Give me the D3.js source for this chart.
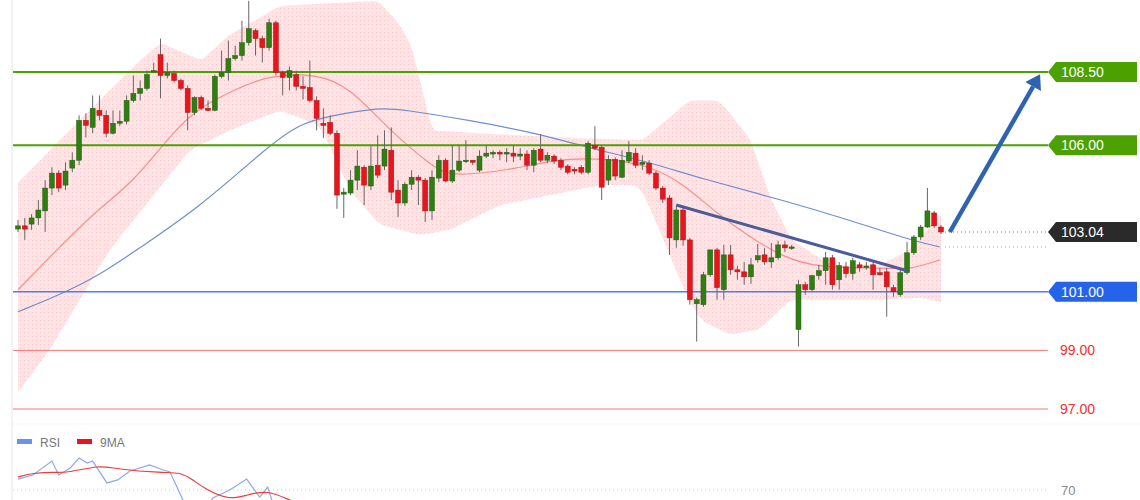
<!DOCTYPE html>
<html><head><meta charset="utf-8">
<script src="https://cdn.jsdelivr.net/npm/d3@7"></script>
<style>body{margin:0;background:#fff}svg{display:block;font-family:"Liberation Sans",Arial,sans-serif}</style>
</head><body><svg id="c" width="1140" height="500"></svg>
<script>
// candles: [open, high, low, close]
const candles = [
[103.14,103.45,103.04,103.25],[103.25,103.52,102.77,103.14],[103.31,103.65,103.11,103.52],[103.52,104.13,103.28,103.79],
[103.76,104.81,103.04,104.54],[104.54,105.25,104.30,105.05],[105.05,105.15,104.40,104.54],[104.64,105.42,104.47,105.12],
[105.22,105.76,105.08,105.49],[105.49,107.02,105.32,106.85],[106.85,107.09,106.27,106.68],[106.61,107.70,106.41,107.26],
[107.19,107.70,106.85,107.02],[107.02,107.19,106.27,106.41],[106.41,107.19,106.37,106.75],[106.75,107.19,106.65,106.82],
[106.82,107.70,106.71,107.53],[107.53,108.38,107.46,107.77],[107.77,108.21,107.53,107.94],[107.94,108.55,107.87,108.41],
[108.52,108.82,108.48,108.55],[109.09,109.64,107.60,108.38],[108.38,108.82,108.28,108.48],[108.45,108.55,108.14,108.21],
[108.21,108.28,107.87,107.94],[107.94,108.04,106.51,107.12],[107.12,107.67,107.02,107.63],[107.63,107.70,107.19,107.26],
[107.26,107.53,107.16,107.19],[107.19,108.41,107.16,108.35],[108.35,109.23,108.28,108.48],[108.48,109.57,108.21,108.96],
[108.96,109.40,108.89,109.06],[109.06,110.25,108.89,109.50],[109.50,110.93,109.40,109.98],[109.91,109.98,109.06,109.64],
[109.64,109.74,108.82,109.33],[109.33,110.32,109.23,110.18],[110.18,110.25,108.38,108.48],[108.48,108.55,107.70,108.31],
[108.31,108.69,107.87,108.55],[108.41,108.55,107.87,108.01],[108.01,108.35,107.56,107.94],[107.97,108.89,107.46,107.53],
[107.53,107.67,106.51,106.92],[106.75,107.26,106.24,106.68],[106.78,107.02,106.34,106.41],[106.41,106.51,103.83,104.30],
[104.33,104.54,103.52,104.40],[104.37,105.15,104.30,104.81],[104.81,105.83,104.47,105.29],[105.25,105.32,103.96,104.64],
[104.61,105.97,104.47,105.29],[105.32,106.34,104.88,104.98],[105.29,106.51,105.15,105.87],[105.83,106.61,104.13,104.40],
[104.47,104.81,103.55,104.03],[104.03,104.74,103.93,104.67],[104.67,105.15,104.47,104.91],[104.91,104.98,103.96,104.81],
[104.81,104.88,103.38,103.76],[103.76,105.15,103.45,104.91],[104.88,105.66,104.74,105.49],[105.49,105.56,104.74,104.78],
[104.78,106.00,104.71,105.15],[105.15,106.00,105.08,105.46],[105.46,106.17,105.39,105.49],[105.49,105.49,105.32,105.42],
[105.15,105.83,105.08,105.63],[105.63,106.00,105.56,105.73],[105.70,105.83,105.56,105.76],[105.76,105.83,105.49,105.70],
[105.70,105.90,105.42,105.76],[105.73,106.00,105.42,105.63],[105.63,105.90,105.49,105.70],[105.70,105.83,105.15,105.32],
[105.32,105.90,105.08,105.83],[105.87,106.37,105.42,105.49],[105.49,105.76,105.39,105.66],[105.63,105.69,105.36,105.46],
[105.49,105.56,105.15,105.25],[105.29,105.35,105.01,105.08],[105.18,105.25,105.01,105.12],[105.25,105.32,105.01,105.08],
[105.08,106.14,105.01,106.07],[105.99,106.65,105.83,105.90],[105.93,106.00,104.13,104.57],[104.81,105.66,104.64,105.52],
[105.52,105.59,104.81,104.95],[104.91,105.83,104.88,105.49],[105.46,106.14,105.39,105.76],[105.73,105.90,105.22,105.32],
[105.35,105.66,105.15,105.42],[105.39,105.49,104.98,105.05],[105.05,105.12,104.47,104.54],[104.54,104.61,104.03,104.16],
[104.20,104.30,102.26,102.84],[102.77,103.96,102.50,103.79],[103.79,103.86,102.57,102.77],[102.77,102.84,100.56,100.73],
[100.59,100.80,99.30,100.73],[100.56,101.68,100.49,101.58],[101.58,102.43,101.51,102.43],[102.43,102.50,100.73,101.14],
[101.07,102.60,100.73,102.26],[102.26,102.60,101.58,101.75],[101.75,101.89,101.41,101.68],[101.68,102.02,101.24,101.51],
[101.51,102.16,101.27,101.92],[102.09,102.63,101.99,102.23],[102.26,102.50,101.92,102.02],[102.02,102.67,101.82,102.16],
[102.16,102.74,102.09,102.60],[102.60,102.74,102.36,102.50],[102.50,102.60,102.43,102.53],[99.71,101.41,99.13,101.24],
[101.24,101.34,100.90,101.07],[101.07,101.58,101.00,101.55],[101.55,101.92,101.41,101.72],[101.72,102.36,101.24,102.16],
[102.16,102.26,101.07,101.24],[101.41,102.02,101.07,101.89],[101.85,102.02,101.48,101.62],[101.62,102.16,101.41,102.06],
[101.92,102.02,101.68,101.82],[101.85,102.02,101.75,101.88],[101.92,102.02,101.07,101.58],[101.65,101.82,101.55,101.58],
[101.68,101.82,100.15,101.17],[101.14,101.24,100.83,101.00],[100.90,101.75,100.83,101.65],[101.65,102.70,101.58,102.33],
[102.33,102.94,102.26,102.87],[102.87,103.28,102.77,103.21],[103.21,104.54,103.18,103.76],[103.69,103.76,103.18,103.25],
[103.21,103.28,102.97,103.04]
];
// indicator series: [candle index, price]
const bandUpper = [[0,104.71],[4.7,105.83],[12,107.53],[18,108.89],[21,109.5],[27,108.89],[31,109.74],[38.6,110.76],[53,110.93],[56,110.2],[58,109.4],[61,106.51],[68,106.41],[83,106.24],[92,106.17],[99,107.53],[103.4,107.53],[108,106.17],[111,104.13],[114,102.77],[119.6,101.92],[127,101.92],[131.4,102.43],[135.8,103.62]];
const bandLower = [[0,97.57],[4.7,99.03],[9.1,100.73],[13.5,102.43],[19.4,104.13],[25.3,105.83],[31.2,106.51],[38.6,107.19],[44.5,106.68],[48.9,104.47],[53.3,103.28],[59.2,102.94],[63.6,103.11],[71,103.96],[78.4,104.3],[85.7,104.64],[91.6,104.64],[94.5,103.11],[97.5,101.41],[100.4,100.05],[104.9,99.54],[109.3,99.71],[113.7,100.73],[119.6,100.73],[127,100.73],[132.8,100.8],[135.8,100.66]];
const maShort = [[0,101.07],[5.7,102.43],[12.1,103.89],[16.9,104.71],[23.4,106.61],[26.8,107.29],[31.7,107.87],[36.7,108.38],[44,108.45],[48.9,107.97],[54.3,106.61],[61.1,105.25],[64.1,104.91],[73.9,105.22],[78.8,105.49],[83.8,105.56],[88.7,105.49],[93.5,105.25],[97.9,104.71],[102.9,103.69],[107.8,102.87],[112.7,102.19],[117.7,101.82],[127.4,101.82],[131.4,101.75],[135.8,102.09]];
const maLong = [[0,100.32],[6.2,100.9],[12.1,101.58],[17.5,102.43],[26.8,103.89],[36.7,105.93],[41.5,106.75],[46.4,107.02],[53.3,107.29],[56.7,107.22],[66.6,106.85],[76.4,106.41],[83.8,105.93],[93.5,105.39],[100.4,104.88],[112.7,104.13],[122.5,103.45],[131.4,102.77],[135.8,102.53]];
const trendLine = [[97,103.96],[131,101.72]];
const arrowLine = [[137.3,103.04],[150.6,108.42]];
const rsi = [[0,77.3],[2.2,80],[5,89.3],[6,80],[7.7,84.7],[9,91.3],[10.2,88],[11,89.3],[13.1,74.7],[14.7,76.7],[16.5,82.7],[19.4,86.7],[21.4,83.3],[22.4,82],[24.3,63.3],[26.8,50],[28.7,64.7],[31.2,70],[33.7,77.3],[35.6,65.3],[36.8,72],[37.4,63.3],[40,55]];
const rsiMA = [[0,78.7],[2.2,81.3],[5.4,82],[7.2,81.3],[12.1,86.7],[14.3,84],[21.4,81.3],[23.9,82],[25.8,76.7],[27.8,70],[31.2,63.3],[33.7,66.7],[36.8,70],[40,63.3],[43,58]];
const levels = [
 {v:108.5, label:"108.50", kind:"green"},
 {v:106.0, label:"106.00", kind:"green"},
 {v:101.0, label:"101.00", kind:"blue"},
 {v:99.0, label:"99.00", kind:"red"},
 {v:97.0, label:"97.00", kind:"red"}
];
const lastPrice = 103.04, lastLabel = "103.04", maLongLast = 102.53;
const rsiTicks = [70];

const svg = d3.select("#c");
const x = d3.scaleLinear().domain([0,136]).range([18,941]);
const y = d3.scaleLinear().domain([97,108.5]).range([409,72]);
const ry = d3.scaleLinear().domain([70,100]).range([490,445]);
const GREEN="#4ca000", BLUE="#2563eb", RED="#f27777";

const defs = svg.append("defs");
const pat = defs.append("pattern").attr("id","dots").attr("width",4).attr("height",4).attr("patternUnits","userSpaceOnUse");
pat.append("rect").attr("width",4).attr("height",4).attr("fill","#ffe4e6");
pat.append("rect").attr("width",1).attr("height",1).attr("fill","#f9c9ce");

const area = d3.area().curve(d3.curveBasis).x(d=>x(d[0])).y0(d=>y(d[2])).y1(d=>y(d[1]));
const interp = arr => i => { for(let k=1;k<arr.length;k++){ if(i<=arr[k][0]){const a=arr[k-1],b=arr[k];const t=(i-a[0])/(b[0]-a[0]);return a[1]+t*(b[1]-a[1]);}} return arr[arr.length-1][1]; };
const uI = interp(bandUpper), lI = interp(bandLower);
const idx = d3.range(0,136.01,1);
svg.append("path").datum(idx.map(i=>[i,uI(i),lI(i)])).attr("d",area).attr("fill","url(#dots)");

const line = d3.line().curve(d3.curveBasis).x(d=>x(d[0])).y(d=>y(d[1]));
svg.append("path").datum(maShort).attr("d",line).attr("fill","none").attr("stroke","#f58f8f").attr("stroke-width",1.2);
svg.append("path").datum(maLong).attr("d",line).attr("fill","none").attr("stroke","#6d8fcf").attr("stroke-width",1.2);

levels.forEach(l=>{
  const yy=y(l.v);
  const col = l.kind==="green"?GREEN:l.kind==="blue"?"#4a7ff0":RED;
  svg.append("line").attr("x1",13).attr("x2",1048).attr("y1",yy).attr("y2",yy).attr("stroke",col).attr("stroke-width",l.kind==="green"?2:(l.kind==="blue"?1.5:1));
  if(l.kind==="red"){
    svg.append("text").attr("x",1060).attr("y",yy+5).attr("fill","#f03030").attr("font-size",14).text(l.label);
  } else {
    const fill = l.kind==="green"?GREEN:BLUE;
    svg.append("path").attr("d",`M1048,${yy}L1056,${yy-10}H1137V${yy+10}H1056Z`).attr("fill",fill);
    svg.append("text").attr("x",1061).attr("y",yy+5).attr("fill","#fff").attr("font-size",14).text(l.label);
  }
});
svg.append("line").attr("x1",945).attr("x2",1048).attr("y1",y(lastPrice)).attr("y2",y(lastPrice)).attr("stroke","#888").attr("stroke-dasharray","1,3");
svg.append("line").attr("x1",945).attr("x2",1048).attr("y1",y(maLongLast)).attr("y2",y(maLongLast)).attr("stroke","#8aa4d8").attr("stroke-dasharray","1,3");
{const yy=y(lastPrice);
svg.append("path").attr("d",`M1048,${yy}L1056,${yy-10}H1137V${yy+10}H1056Z`).attr("fill","#2a2a2a");
svg.append("text").attr("x",1061).attr("y",yy+5).attr("fill","#fff").attr("font-size",14).text(lastLabel);}

const g = svg.append("g");
candles.forEach((c,i)=>{
  const [o,h,l,cl]=c, xx=x(i), up=cl>=o;
  g.append("line").attr("x1",xx).attr("x2",xx).attr("y1",y(h)).attr("y2",y(l)).attr("stroke","#666").attr("stroke-width",1);
  const t=y(Math.max(o,cl)), b=y(Math.min(o,cl));
  g.append("rect").attr("x",xx-2.5).attr("y",t).attr("width",5).attr("height",Math.max(1.5,b-t))
   .attr("fill",up?"#2f7d13":"#e8151d").attr("stroke",up?"#245f10":"#b01015").attr("stroke-width",0.5);
});

svg.append("path").datum(trendLine).attr("d",d3.line().x(d=>x(d[0])).y(d=>y(d[1]))).attr("stroke","#4a5c99").attr("stroke-width",3).attr("fill","none");
const a0=[x(arrowLine[0][0]),y(arrowLine[0][1])], a1=[x(arrowLine[1][0]),y(arrowLine[1][1])];
const ang=Math.atan2(a1[1]-a0[1],a1[0]-a0[0]);
const back=[a1[0]-14*Math.cos(ang),a1[1]-14*Math.sin(ang)];
svg.append("line").attr("x1",a0[0]).attr("y1",a0[1]).attr("x2",back[0]).attr("y2",back[1]).attr("stroke","#2f63b0").attr("stroke-width",4.5);
const px=-Math.sin(ang), py=Math.cos(ang);
svg.append("path").attr("d",`M${a1[0]},${a1[1]}L${back[0]+9*px},${back[1]+9*py}L${back[0]-9*px},${back[1]-9*py}Z`).attr("fill","#2f63b0");

svg.append("line").attr("x1",13).attr("x2",1140).attr("y1",424).attr("y2",424).attr("stroke","#ddd").attr("stroke-dasharray","1,3");
svg.append("line").attr("x1",13).attr("x2",1048).attr("y1",ry(70)).attr("y2",ry(70)).attr("stroke","#ccc").attr("stroke-dasharray","1,3");
rsiTicks.forEach(t=>svg.append("text").attr("x",1061).attr("y",ry(t)+5).attr("fill","#888").attr("font-size",13).text(t));
svg.append("rect").attr("x",17).attr("y",439).attr("width",15).attr("height",5).attr("fill","#6d93e8");
svg.append("text").attr("x",40).attr("y",447).attr("fill","#777").attr("font-size",12).text("RSI");
svg.append("rect").attr("x",77).attr("y",439).attr("width",15).attr("height",5).attr("fill","#e8151d");
svg.append("text").attr("x",100).attr("y",447).attr("fill","#777").attr("font-size",12).text("9MA");
const rl=d3.line().x(d=>x(d[0])).y(d=>ry(d[1]));
svg.append("path").datum(rsi).attr("d",rl).attr("fill","none").attr("stroke","#8fa9e8").attr("stroke-width",1.2);
svg.append("path").datum(rsiMA).attr("d",rl.curve(d3.curveBasis)).attr("fill","none").attr("stroke","#ee3b3b").attr("stroke-width",1.2);
svg.append("line").attr("x1",12).attr("x2",12).attr("y1",0).attr("y2",500).attr("stroke","#e6e6e6");
</script></body></html>
